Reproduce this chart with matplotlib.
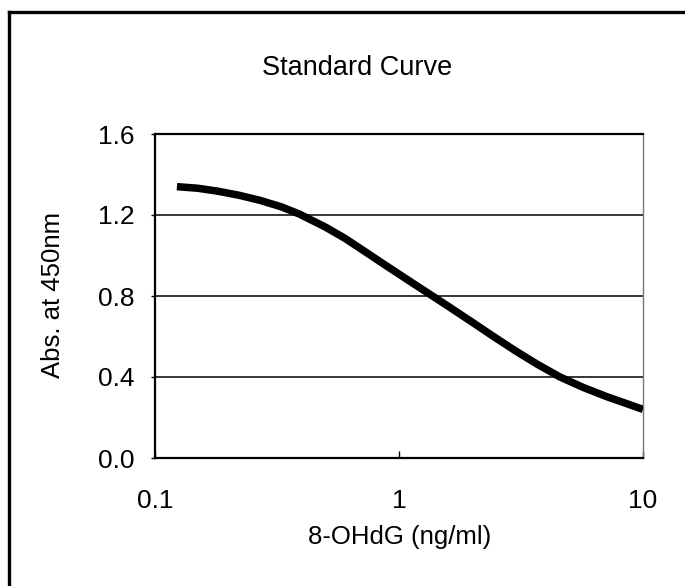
import matplotlib
matplotlib.use("Agg")
import matplotlib.pyplot as plt
from matplotlib.lines import Line2D

conc = [0.123, 0.15, 0.18, 0.22, 0.27, 0.33, 0.39, 0.5, 0.6, 0.72, 0.86, 1.0, 1.15, 1.38,
        1.62, 2.0, 2.44, 3.03, 3.7, 4.57, 5.7, 7.1, 8.5, 10]
absorb = [1.340, 1.332, 1.318, 1.298, 1.272, 1.240, 1.205, 1.140, 1.085, 1.022, 0.960, 0.908,
          0.860, 0.798, 0.743, 0.670, 0.600, 0.526, 0.462, 0.400, 0.348, 0.303, 0.270, 0.240]
yticks = [0.0, 0.4, 0.8, 1.2, 1.6]
ytick_labels = ["0.0", "0.4", "0.8", "1.2", "1.6"]
xticks = [0.1, 1, 10]
xtick_labels = ["0.1", "1", "10"]

plt.rcParams['font.family'] = ['Liberation Sans', 'DejaVu Sans']

W, H = 685, 586
fig = plt.figure(figsize=(W / 100, H / 100), dpi=100)
fig.patch.set_facecolor("white")

ax = fig.add_axes([155 / W, (H - 458) / H, 488 / W, 324 / H])
ax.set_xscale("log")
ax.set_xlim(0.1, 10)
ax.set_ylim(0, 1.6)

for g in [0.4, 0.8, 1.2]:
    ax.axhline(g, color="black", lw=1.1, zorder=1)

ax.plot(conc, absorb, color="black", lw=5.4, solid_capstyle="butt",
        solid_joinstyle="round", zorder=3)

ax.set_yticks(yticks)
ax.set_yticklabels(ytick_labels)
ax.set_xticks(xticks)
ax.set_xticklabels(xtick_labels)
ax.xaxis.set_minor_locator(matplotlib.ticker.NullLocator())
ax.tick_params(axis="y", direction="out", length=3, width=1, pad=12, labelsize=19)
ax.tick_params(axis="x", direction="in", length=5, width=1, pad=22, labelsize=19)

for side in ["left", "bottom", "top"]:
    ax.spines[side].set_color("black")
    ax.spines[side].set_linewidth(1.6)
ax.spines["right"].set_color("#777777")
ax.spines["right"].set_linewidth(1.0)

fig.text(357 / W, 1 - 68 / H, "Standard Curve", ha="center", va="center", fontsize=19.5)
fig.text(400 / W, 1 - 537 / H, "8-OHdG (ng/ml)", ha="center", va="center", fontsize=18.5)
fig.text(53 / W, 1 - 295 / H, "Abs. at 450nm", ha="center", va="center", rotation=90, fontsize=18.5)

# outer frame (left and top edges visible)
fig.add_artist(Line2D([9 / W, 9 / W], [0, 1 - 12 / H], transform=fig.transFigure, color="black", lw=2.4))
fig.add_artist(Line2D([9 / W, 1], [1 - 12 / H, 1 - 12 / H], transform=fig.transFigure, color="black", lw=2.4))

fig.savefig("out.png", dpi=100, facecolor="white")
